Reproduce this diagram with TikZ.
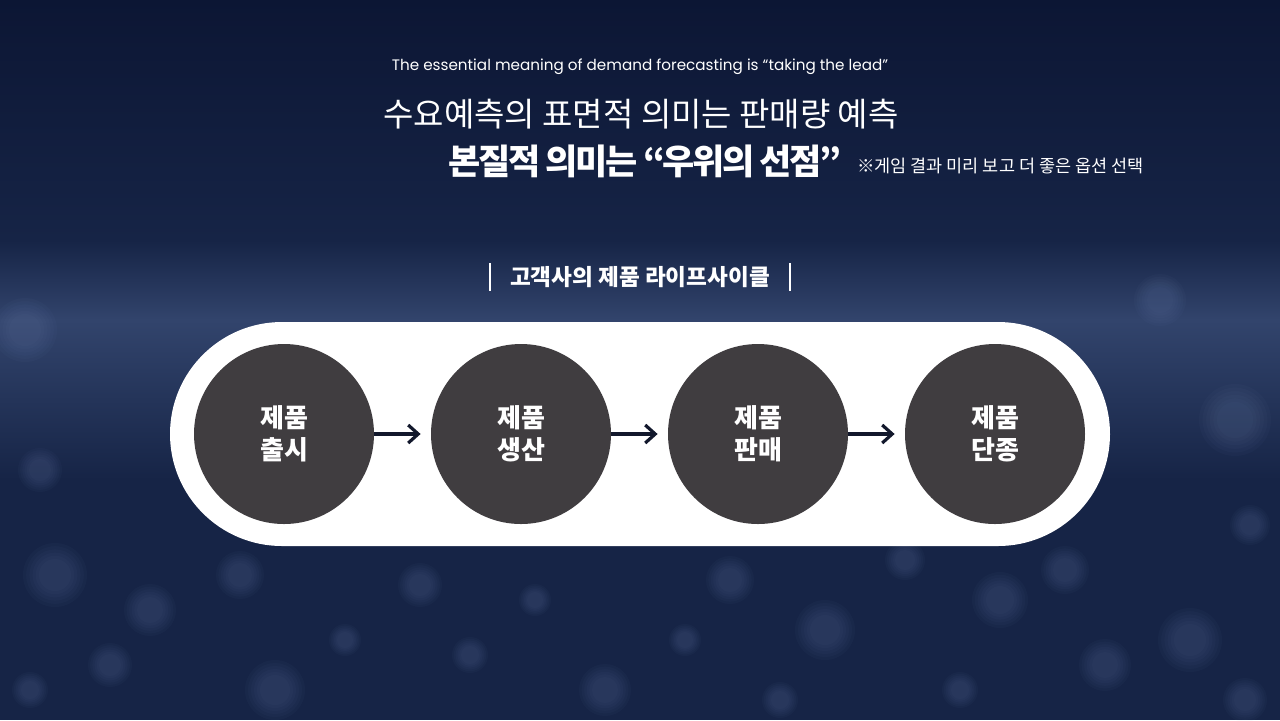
\documentclass[tikz,border=0pt]{standalone}
\usepackage{fontspec}
\setmainfont{Noto Sans CJK KR}
\newfontfamily\engfont{Poppins}
\usetikzlibrary{arrows.meta}
\definecolor{navytop}{RGB}{12,22,52}
\definecolor{navybase}{RGB}{22,36,70}
\definecolor{navymid}{RGB}{50,68,108}
\definecolor{bokeh}{RGB}{120,140,185}
\definecolor{stepgray}{RGB}{64,61,64}
\definecolor{arrowink}{RGB}{18,24,44}
\tikzset{
  stage/.style={circle,fill=stepgray,minimum size=90pt,inner sep=0pt,
    text=white,font=\bfseries\fontsize{13}{16}\selectfont,align=center},
  flow/.style={-{Straight Barb[length=5pt,width=9pt,line width=1.6pt]},
    line width=1.6pt,draw=arrowink,shorten >=5pt}
}
\begin{document}
\begin{tikzpicture}[x=0.5pt,y=-0.5pt]
\useasboundingbox (0,0) rectangle (1280,720);
% background
\shade[top color=navytop,bottom color=navybase] (0,0) rectangle (1280,240);
\shade[top color=navybase,bottom color=navymid] (0,240) rectangle (1280,320);
\shade[top color=navymid,bottom color=navybase] (0,320) rectangle (1280,480);
\fill[navybase] (0,480) rectangle (1280,720);
\foreach \bx/\by/\br in {55/575/32,150/610/26,110/665/22,30/690/18,240/575/24,275/690/30,345/640/16,
    420/585/22,470/655/18,535/600/16,605/690/26,730/580/24,780/700/18,825/630/30,905/560/20,
    1000/600/28,1065/570/24,1105/665/26,1190/640/32,1245/700/22,960/690/18,685/640/16,
    25/330/32,1235/420/36,1160/300/26,40/470/22,1250/525/20}
  \foreach \k in {1,0.9,0.8,0.7,0.6,0.5}
    \fill[bokeh,opacity=0.04] (\bx,\by) circle (\k*\br);
% heading
\node[text=white,font=\engfont\fontsize{7.6}{9}\selectfont] (eng) at (640,67) {The essential meaning of demand forecasting is “taking the lead”};
\node[text=white,font=\fontsize{16.5}{19}\selectfont] (surface) at (641,114) {수요예측의 표면적 의미는 판매량 예측};
\node[text=white,font=\bfseries\fontsize{17.5}{21}\selectfont\addfontfeature{LetterSpace=-7}] (essence) at (645,161) {본질적 의미는 “우위의 선점”};
\node[text=white,font=\fontsize{8.75}{11}\selectfont,anchor=west] (note) at (850,166) {※게임 결과 미리 보고 더 좋은 옵션 선택};
% lifecycle
\node[text=white,font=\bfseries\fontsize{11.3}{13}\selectfont] (cycle) at (640,277) {고객사의 제품 라이프사이클};
\draw[white,line width=0.8pt] (490,263) -- (490,291) (790,263) -- (790,291);
\fill[white,rounded corners=56pt] (170,322) rectangle (1110,546);
\node[stage] (launch) at (284,434) {제품\\출시};
\node[stage] (produce) at (521,434) {제품\\생산};
\node[stage] (sell) at (758,434) {제품\\판매};
\node[stage] (discont) at (995,434) {제품\\단종};
\draw[flow] (launch) -- (produce);
\draw[flow] (produce) -- (sell);
\draw[flow] (sell) -- (discont);
\end{tikzpicture}
\end{document}
